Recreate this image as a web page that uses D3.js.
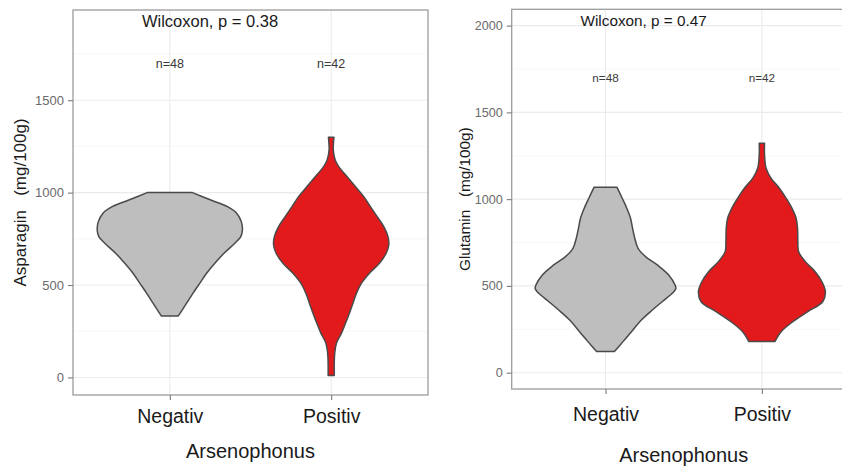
<!DOCTYPE html>
<html>
<head>
<meta charset="utf-8">
<script src="https://cdn.jsdelivr.net/npm/d3@7"></script>
<style>
  html, body { margin: 0; padding: 0; background: #fff; }
  svg { display: block; font-family: "Liberation Sans", Arial, Helvetica, sans-serif; }
</style>
</head>
<body>
<svg id="chart" width="842" height="466"></svg>
<script>
// Groups on the x axis and their sample sizes
const categories = ["Negativ", "Positiv"];
const groupCounts = [48, 42];

// One panel per amino acid
const measures = ["Asparagin", "Glutamin"];
const pValues = ["0.38", "0.47"];
const asparaginTicks = [0, 500, 1000, 1500];
const glutaminTicks = [0, 500, 1000, 1500, 2000];

// Violin outlines: [value in mg/100g, half-width in category units]
const asparaginNegativ = [
  [1000, 0.140], [960, 0.254], [924, 0.357], [889, 0.414], [843, 0.443],
  [798, 0.450], [762, 0.440], [726, 0.403], [672, 0.336], [618, 0.279],
  [564, 0.228], [510, 0.186], [456, 0.144], [402, 0.104], [333, 0.053]
];
const asparaginPositiv = [
  [1299, 0.017], [1231, 0.013], [1177, 0.025], [1141, 0.047], [1086, 0.099],
  [1032, 0.151], [978, 0.202], [924, 0.243], [870, 0.285], [816, 0.326],
  [762, 0.352], [717, 0.357], [672, 0.341], [618, 0.299], [564, 0.237],
  [510, 0.188], [456, 0.157], [402, 0.135], [348, 0.113], [294, 0.089],
  [240, 0.064], [186, 0.033], [132, 0.022], [78, 0.019], [10, 0.019]
];
const glutaminNegativ = [
  [1069, 0.073], [1005, 0.107], [948, 0.136], [890, 0.160], [832, 0.173],
  [775, 0.187], [717, 0.208], [669, 0.256], [621, 0.331], [563, 0.404],
  [505, 0.445], [485, 0.450], [460, 0.430], [409, 0.362], [352, 0.288],
  [294, 0.219], [236, 0.166], [179, 0.112], [122, 0.057]
];
const glutaminPositiv = [
  [1322, 0.017], [1255, 0.017], [1178, 0.027], [1120, 0.059], [1063, 0.112],
  [1005, 0.155], [948, 0.192], [890, 0.219], [832, 0.228], [755, 0.230],
  [697, 0.235], [640, 0.278], [582, 0.341], [524, 0.384], [467, 0.406],
  [409, 0.389], [352, 0.294], [294, 0.198], [236, 0.123], [180, 0.084]
];

const groupFills = ["#bebebe", "#e31a1c"];

// Panel geometry and text sizes
const panels = [
  {
    measure: measures[0], p: pValues[0], ticks: asparaginTicks,
    violins: [asparaginNegativ, asparaginPositiv],
    left: 73, right: 428, top: 10, bottom: 395, yDomain: [-95, 1988],
    tickFont: 13, yTitleFont: 17, yTitleX: 26, statFont: 16.5, statX: 0.827,
    statBaseline: 26.7, nFont: 12.5, xLabelBaseline: 423, xTitleBaseline: 457.5
  },
  {
    measure: measures[1], p: pValues[1], ticks: glutaminTicks,
    violins: [glutaminNegativ, glutaminPositiv],
    left: 511.7, right: 855.7, top: 9.3, bottom: 389, yDomain: [-94, 2094],
    tickFont: 12.6, yTitleFont: 15.3, yTitleX: 469.5, statFont: 15.3, statX: 0.84,
    statBaseline: 26, nFont: 11.7, xLabelBaseline: 421, xTitleBaseline: 462
  }
];

const svg = d3.select("#chart");

panels.forEach(P => {
  const g = svg.append("g");
  const x = d3.scalePoint().domain(categories).range([P.left, P.right]).padding(0.6);
  const step = x.step();
  const y = d3.scaleLinear().domain(P.yDomain).range([P.bottom, P.top]);

  // Minor grid (midway between major ticks)
  const minor = [];
  for (let v = P.ticks[0] + 250; v < P.yDomain[1]; v += 500) minor.push(v);
  g.selectAll(".minor").data(minor).join("line")
    .attr("x1", P.left).attr("x2", P.right)
    .attr("y1", d => y(d)).attr("y2", d => y(d))
    .attr("stroke", "#f3f3f3").attr("stroke-width", 0.7);

  // Major grid
  g.selectAll(".major").data(P.ticks).join("line")
    .attr("x1", P.left).attr("x2", P.right)
    .attr("y1", d => y(d)).attr("y2", d => y(d))
    .attr("stroke", "#ebebeb").attr("stroke-width", 1.1);
  g.selectAll(".vmajor").data(categories).join("line")
    .attr("x1", d => x(d)).attr("x2", d => x(d))
    .attr("y1", P.top).attr("y2", P.bottom)
    .attr("stroke", "#ebebeb").attr("stroke-width", 1.1);

  // Violins
  categories.forEach((c, i) => {
    const area = d3.area()
      .y(d => y(d[0]))
      .x0(d => x(c) - d[1] * step)
      .x1(d => x(c) + d[1] * step)
      .curve(d3.curveCatmullRom.alpha(0.5));
    g.append("path")
      .datum(P.violins[i])
      .attr("d", area)
      .attr("fill", groupFills[i])
      .attr("stroke", "#4a4a4a")
      .attr("stroke-width", 1.5)
      .attr("stroke-linejoin", "round");
  });

  // Sample size labels
  g.selectAll(".nlab").data(categories).join("text")
    .attr("x", d => x(d))
    .attr("y", y(1700))
    .attr("dy", "0.35em")
    .attr("text-anchor", "middle")
    .attr("font-size", P.nFont)
    .attr("fill", "#3a3a3a")
    .text((d, i) => "n=" + groupCounts[i]);

  // Test result
  g.append("text")
    .attr("x", P.left + (P.statX - 0.4) * step)
    .attr("y", P.statBaseline)
    .attr("font-size", P.statFont)
    .attr("fill", "#1a1a1a")
    .text("Wilcoxon, p = " + P.p);

  // Panel border
  g.append("rect")
    .attr("x", P.left).attr("y", P.top)
    .attr("width", P.right - P.left).attr("height", P.bottom - P.top)
    .attr("fill", "none").attr("stroke", "#9c9c9c").attr("stroke-width", 1.3);

  // Y axis
  const yAxis = d3.axisLeft(y).tickValues(P.ticks).tickSize(5).tickPadding(4).tickFormat(d3.format("d"));
  const ya = g.append("g").attr("transform", `translate(${P.left},0)`).call(yAxis);
  ya.select(".domain").remove();
  ya.selectAll(".tick line").attr("stroke", "#7a7a7a").attr("stroke-width", 1.1);
  ya.selectAll(".tick text")
    .attr("font-size", P.tickFont)
    .attr("font-family", "Liberation Sans, Arial, sans-serif")
    .attr("fill", "#6a6a6a");

  // X axis
  const xAxis = d3.axisBottom(x).tickSize(5).tickPadding(0);
  const xa = g.append("g").attr("transform", `translate(0,${P.bottom})`).call(xAxis);
  xa.select(".domain").remove();
  xa.selectAll(".tick line").attr("stroke", "#7a7a7a").attr("stroke-width", 1.1);
  xa.selectAll(".tick text")
    .attr("y", P.xLabelBaseline - P.bottom)
    .attr("dy", null)
    .attr("font-size", 19.5)
    .attr("font-family", "Liberation Sans, Arial, sans-serif")
    .attr("fill", "#1a1a1a");

  // Axis titles
  g.append("text")
    .attr("x", (P.left + P.right) / 2)
    .attr("y", P.xTitleBaseline)
    .attr("text-anchor", "middle")
    .attr("font-size", 20)
    .attr("fill", "#1a1a1a")
    .text("Arsenophonus");

  g.append("text")
    .attr("transform", `translate(${P.yTitleX},${(P.top + P.bottom) / 2}) rotate(-90)`)
    .attr("text-anchor", "middle")
    .attr("font-size", P.yTitleFont)
    .attr("fill", "#1a1a1a")
    .style("white-space", "pre")
    .text(P.measure + "   (mg/100g)");
});
</script>
</body>
</html>
